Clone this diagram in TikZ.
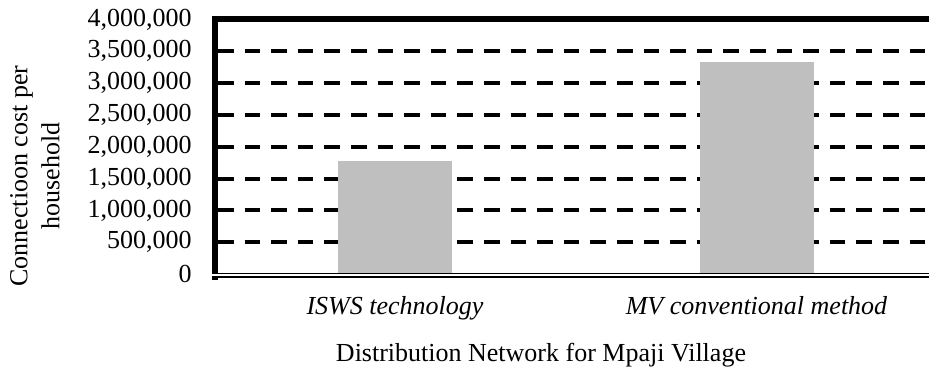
\documentclass[tikz,border=0pt]{standalone}
\usepackage{xcolor}
\usepackage{fontspec}
\setmainfont{Liberation Serif}
\usetikzlibrary{positioning}
\definecolor{bargray}{RGB}{191,191,191}

\begin{document}
\begin{tikzpicture}[x=0.5pt,y=0.5pt,
  every node/.style={font=\fontsize{13}{16}\selectfont, inner sep=0pt},
  gridline/.style={line width=2pt, dash pattern=on 7.8pt off 5.5pt},
  axisline/.style={line width=3pt, line cap=rect},
  zeroline/.style={double, line width=0.9pt, double distance=0.9pt},
  costbar/.style={fill=bargray}]
\useasboundingbox (0,0) rectangle (929,367);
% dashed grid every 500,000
\foreach \v in {0.5,1,...,3.5}
  \draw[gridline] (218,93+\v*63.625) -- (929,93+\v*63.625);
% bars
\fill[costbar] (338.3,93) rectangle (451.7,206.3);
\fill[costbar] (700,93) rectangle (813.7,305.3);
% axes
\draw[axisline] (215,90) -- (215,347.5) -- (929,347.5);
\draw[zeroline] (212,91.7) -- (929,91.7);
% tick labels
\foreach \v/\lab [count=\i] in {0/0, 0.5/{500,000}, 1/{1,000,000}, 1.5/{1,500,000},
    2/{2,000,000}, 2.5/{2,500,000}, 3/{3,000,000}, 3.5/{3,500,000}, 4/{4,000,000}}
  \node[anchor=east] (tick\i) at (192,93+\v*63.625) {\lab};
% categories and titles
\node[anchor=base] (isws) at (395,52) {\itshape ISWS technology};
\node[anchor=base] (mv) at (756.5,52) {\itshape MV conventional method};
\node[anchor=base] (xtitle) at (541,5) {Distribution Network for Mpaji Village};
\node[rotate=90, align=center] (ytitle) at (35,191) {Connectioon cost per\\household};
\end{tikzpicture}
\end{document}
